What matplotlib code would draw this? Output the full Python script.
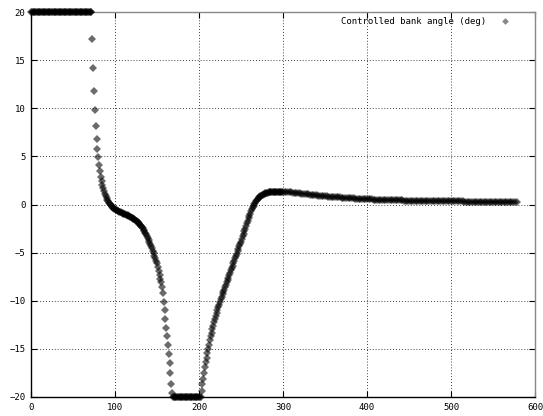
import matplotlib
matplotlib.use("Agg")
import matplotlib.pyplot as plt
from matplotlib.lines import Line2D

# ---- data ----
# saturated at +20
x_hi = list(range(0, 73))
y_hi = [20.0] * len(x_hi)

# descent from +20 to -20
x_down = list(range(73, 169))
y_down = [
    17.2, 14.2, 11.8, 9.8, 8.2, 6.8, 5.8, 4.9, 4.1, 3.5,
    2.9, 2.4, 2.0, 1.7, 1.4, 1.1, 0.9, 0.7, 0.5, 0.35,
    0.2, 0.05, -0.05, -0.15, -0.25, -0.35, -0.42, -0.5, -0.55, -0.6,
    -0.65, -0.7, -0.74, -0.78, -0.82, -0.86, -0.9, -0.94, -0.98, -1.02,
    -1.06, -1.1, -1.14, -1.18, -1.22, -1.27, -1.32, -1.37, -1.42, -1.48,
    -1.54, -1.6, -1.67, -1.74, -1.82, -1.9, -1.99, -2.08, -2.2, -2.32,
    -2.45, -2.6, -2.75, -2.92, -3.1, -3.3, -3.5, -3.7, -3.9, -4.1,
    -4.3, -4.55, -4.8, -5.05, -5.3, -5.6, -5.9, -6.1, -6.5, -6.9,
    -7.3, -7.7, -8.1, -8.6, -9.2, -10.1, -11.0, -11.9, -12.8, -13.7,
    -14.6, -15.5, -16.5, -17.5, -18.6, -19.6,
]

# saturated at -20
x_lo = list(range(169, 203))
y_lo = [-20.0] * len(x_lo)

# recovery
x_up = list(range(203, 300))
y_up = [
    -19.4, -18.7, -18.1, -17.5, -16.9, -16.4, -15.9, -15.4, -15.0, -14.6,
    -14.1, -13.7, -13.3, -12.95, -12.6, -12.25, -11.9, -11.6, -11.3, -11.0,
    -10.7, -10.4, -10.1, -9.85, -9.6, -9.35, -9.1, -8.85, -8.6, -8.35,
    -8.1, -7.85, -7.6, -7.35, -7.1, -6.85, -6.6, -6.35, -6.1, -5.85,
    -5.6, -5.35, -5.1, -4.85, -4.6, -4.35, -4.1, -3.85, -3.58, -3.31,
    -3.04, -2.77, -2.5, -2.23, -1.96, -1.69, -1.43, -1.18, -0.94, -0.71,
    -0.5, -0.3, -0.12, 0.05, 0.2, 0.34, 0.47, 0.58, 0.68, 0.77,
    0.85, 0.92, 0.98, 1.03, 1.08, 1.12, 1.16, 1.19, 1.22, 1.24,
    1.26, 1.28, 1.3, 1.31, 1.32, 1.33, 1.34, 1.35, 1.35, 1.35,
    1.35, 1.35, 1.35, 1.35, 1.34, 1.34, 1.33,
]

# slow tail
x_tail = list(range(300, 580, 2))
y_tail = [
    1.32, 1.31, 1.30, 1.29, 1.27, 1.25, 1.23, 1.21, 1.19, 1.17,
    1.15, 1.13, 1.11, 1.09, 1.07, 1.05, 1.03, 1.01, 0.99, 0.97,
    0.95, 0.93, 0.92, 0.90, 0.88, 0.87, 0.85, 0.83, 0.82, 0.80,
    0.79, 0.78, 0.76, 0.75, 0.73, 0.72, 0.71, 0.69, 0.68, 0.66,
    0.65, 0.64, 0.63, 0.62, 0.61, 0.60, 0.59, 0.58, 0.57, 0.56,
    0.55, 0.54, 0.53, 0.52, 0.51, 0.50, 0.49, 0.48, 0.48, 0.47,
    0.46, 0.46, 0.45, 0.45, 0.44, 0.44, 0.43, 0.43, 0.43, 0.42,
    0.42, 0.42, 0.41, 0.41, 0.40, 0.40, 0.39, 0.39, 0.38, 0.38,
    0.38, 0.37, 0.37, 0.37, 0.36, 0.36, 0.36, 0.35, 0.35, 0.35,
    0.35, 0.34, 0.34, 0.34, 0.34, 0.34, 0.33, 0.33, 0.33, 0.33,
    0.33, 0.33, 0.32, 0.32, 0.32, 0.32, 0.32, 0.32, 0.31, 0.31,
    0.31, 0.31, 0.31, 0.31, 0.30, 0.30, 0.30, 0.30, 0.30, 0.30,
    0.29, 0.29, 0.29, 0.29, 0.29, 0.28, 0.28, 0.28, 0.28, 0.28,
    0.27, 0.27, 0.26, 0.26, 0.25, 0.25, 0.24, 0.23, 0.22, 0.21,
]

x_ticks = [0, 100, 200, 300, 400, 500, 600]
y_ticks = [-20, -15, -10, -5, 0, 5, 10, 15, 20]
series_label = "Controlled bank angle (deg)"

x_all = x_hi + x_down + x_lo + x_up + x_tail
y_all = y_hi + y_down + y_lo + y_up + y_tail

# ---- figure ----
plt.rcParams['font.family'] = ['DejaVu Sans Mono']
fig = plt.figure(figsize=(5.43, 4.16), dpi=100)
ax = fig.add_axes([31 / 543, 1 - 397 / 416, (535 - 31) / 543, (397 - 12) / 416])

mstyle = dict(linestyle='none', marker='D', markersize=3.6, markerfacecolor='black',
              markeredgecolor='black', markeredgewidth=0.0, alpha=0.58)
ax.plot(x_all, y_all, clip_on=False, zorder=3, **mstyle)

ax.set_xlim(0, 600)
ax.set_ylim(-20, 20)
ax.set_xticks(x_ticks)
ax.set_yticks(y_ticks)
ax.grid(True, color='black', linestyle=(0, (1, 2.5)), linewidth=0.6)
ax.tick_params(direction='in', length=4, width=0.8, top=True, right=True,
               labelsize=6.5, pad=4, colors='black')

for side in ['left', 'bottom']:
    ax.spines[side].set_color('black')
    ax.spines[side].set_linewidth(1.0)
for side in ['top', 'right']:
    ax.spines[side].set_color('#888888')
    ax.spines[side].set_linewidth(1.0)

legend_handle = Line2D([], [], linestyle='none', marker='D', markersize=3.4,
                       markerfacecolor='#888888', markeredgewidth=0.0)
leg = ax.legend([legend_handle], [series_label], loc='upper right', frameon=False,
                markerfirst=False, fontsize=6.5, handlelength=1.5,
                handletextpad=1.4, borderaxespad=0.2, bbox_to_anchor=(0.965, 1.0))

fig.savefig("out.png", dpi=100)
